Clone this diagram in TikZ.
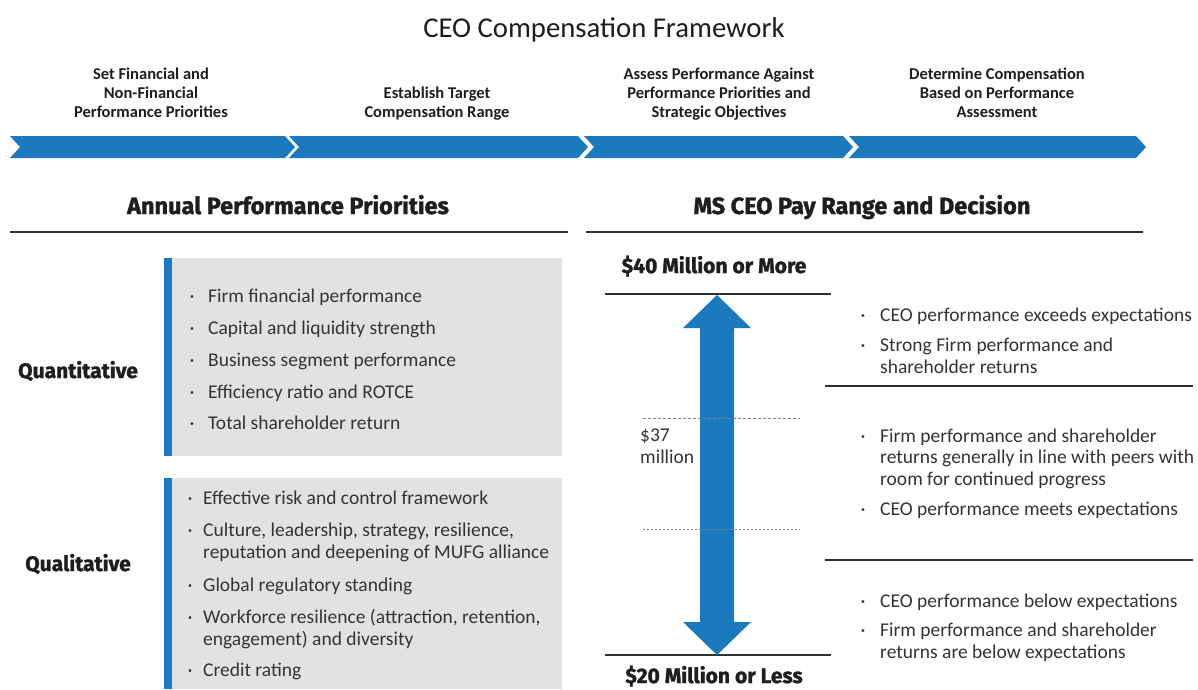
\documentclass[tikz,border=0pt]{standalone}
\usepackage{fontspec}
\setmainfont{Carlito}
\newfontfamily\headfont{Fira Sans}[BoldFeatures={FakeBold=1.5}]
\usetikzlibrary{calc}
\definecolor{msblue}{HTML}{1B79BD}
\definecolor{boxgray}{HTML}{E1E2E3}
\definecolor{txt}{HTML}{333333}
\definecolor{dark}{HTML}{1F1D1E}
\tikzset{
  body/.style={inner sep=0pt, text=txt, align=left, font=\fontsize{19.5}{21.5}\selectfont, anchor=base west},
  bul/.style={inner sep=0pt, text=txt, font=\fontsize{19.5}{21.5}\selectfont, anchor=base},
  steplabel/.style={inner sep=0pt, text=dark, align=center, font=\fontsize{16.5}{19}\selectfont\bfseries, anchor=base},
  heading/.style={inner sep=0pt, text=dark, font=\headfont\fontsize{23.5}{26}\selectfont\bfseries, anchor=base},
  pricelabel/.style={inner sep=0pt, text=dark, font=\headfont\fontsize{21}{24}\selectfont\bfseries, anchor=base},
  sidelabel/.style={inner sep=0pt, text=dark, font=\headfont\fontsize{21}{24}\selectfont\bfseries, anchor=base},
  chev/.style={fill=msblue, draw=none},
  rule/.style={draw=txt, line width=1.3pt},
  thinrule/.style={draw=txt, line width=1.1pt},
  dashrule/.style={draw=gray, line width=0.8pt, dash pattern=on 3pt off 2pt},
  dotrule/.style={draw=gray, line width=0.8pt, dash pattern=on 2pt off 2pt},
}
\newcommand\chevseg[3]{% left, right, name
  \fill[chev] (#1,136) -- (#2,136) -- (#2+10,147) -- (#2,158) -- (#1,158) -- (#1+10,147) -- cycle;
  \coordinate (#3) at ({(#1+#2)/2+5},147);
}
\begin{document}
\begin{tikzpicture}[x=1pt,y=-1pt]
\useasboundingbox (0,0) rectangle (1198,689);
\fill[white] (0,0) rectangle (1198,689);

% title
\node[inner sep=0pt, text=dark, anchor=base, font=\fontsize{28.7}{32}\selectfont] (title) at (604,37) {CEO Compensation Framework};

% chevrons
\chevseg{10}{285}{c1}
\chevseg{289}{578}{c2}
\chevseg{584}{843}{c3}
\chevseg{849}{1136}{c4}

% (multi-line nodes: anchor base = baseline of last line)
\node[steplabel] (s1) at (151,117) {Set Financial and\\Non-Financial\\Performance Priorities};
\node[steplabel] (s2) at (437,117) {Establish Target\\Compensation Range};
\node[steplabel] (s3) at (719,117) {Assess Performance Against\\Performance Priorities and\\Strategic Objectives};
\node[steplabel] (s4) at (997,117) {Determine Compensation\\Based on Performance\\Assessment};

% headings
\node[heading] (hL) at (288,214) {Annual Performance Priorities};
\node[heading] (hR) at (862,214) {MS CEO Pay Range and Decision};
\draw[rule] (10,232) -- (568,232);
\draw[rule] (586,232) -- (1143,232);

% left boxes
\fill[boxgray] (172,258) rectangle (562,456);
\fill[msblue] (164,258) rectangle (172,456);
\fill[boxgray] (172,478) rectangle (562,689);
\fill[msblue] (164,478) rectangle (172,689);

\node[sidelabel] (quant) at (78,378) {Quantitative};
\node[sidelabel] (qual) at (78,571) {Qualitative};

\node[bul] (qb1) at (192,302) {·}; \node[body] (q1) at (208,302) {Firm financial performance};
\node[bul] (qb2) at (192,334) {·}; \node[body] (q2) at (208,334) {Capital and liquidity strength};
\node[bul] (qb3) at (192,366) {·}; \node[body] (q3) at (208,366) {Business segment performance};
\node[bul] (qb4) at (192,398) {·}; \node[body] (q4) at (208,398) {Efficiency ratio and ROTCE};
\node[bul] (qb5) at (192,429) {·}; \node[body] (q5) at (208,429) {Total shareholder return};

\node[bul] (lb1) at (190,504) {·}; \node[body] (l1) at (203,504) {Effective risk and control framework};
\node[bul] (lb2) at (190,536) {·}; \node[body] (l2) at (203,558) {Culture, leadership, strategy, resilience,\\reputation and deepening of MUFG alliance};
\node[bul] (lb3) at (190,591) {·}; \node[body] (l3) at (203,591) {Global regulatory standing};
\node[bul] (lb4) at (190,623) {·}; \node[body] (l4) at (203,645) {Workforce resilience (attraction, retention,\\engagement) and diversity};
\node[bul] (lb5) at (190,676) {·}; \node[body] (l5) at (203,676) {Credit rating};

% right panel
\node[pricelabel] (top) at (714,273) {\$40 Million or More};
\node[pricelabel] (bot) at (714,683) {\$20 Million or Less};
\draw[thinrule] (605,294) -- (831,294);
\draw[thinrule] (605,655) -- (831,655);
\draw[thinrule] (825,386) -- (1193,386);
\draw[thinrule] (825,560) -- (1193,560);

\fill[msblue] (717,295) -- (751,328) -- (734,328) -- (734,622) -- (751,622) -- (717,655) -- (683,622) -- (700,622) -- (700,328) -- (683,328) -- cycle;

\draw[dashrule] (643,418) -- (800,418);
\draw[dotrule] (643,529) -- (800,529);
\node[body] (m37) at (640,463) {\$37\\million};

\node[bul] (rb1) at (863,321) {·}; \node[body] (r1) at (880,321) {CEO performance exceeds expectations};
\node[bul] (rb2) at (863,351) {·}; \node[body] (r2) at (880,373) {Strong Firm performance and\\shareholder returns};
\node[bul] (rb3) at (863,442) {·}; \node[body] (r3) at (880,485) {Firm performance and shareholder\\returns generally in line with peers with\\room for continued progress};
\node[bul] (rb4) at (863,515) {·}; \node[body] (r4) at (880,515) {CEO performance meets expectations};
\node[bul] (rb5) at (863,607) {·}; \node[body] (r5) at (880,607) {CEO performance below expectations};
\node[bul] (rb6) at (863,636) {·}; \node[body] (r6) at (880,658) {Firm performance and shareholder\\returns are below expectations};
\end{tikzpicture}
\end{document}
